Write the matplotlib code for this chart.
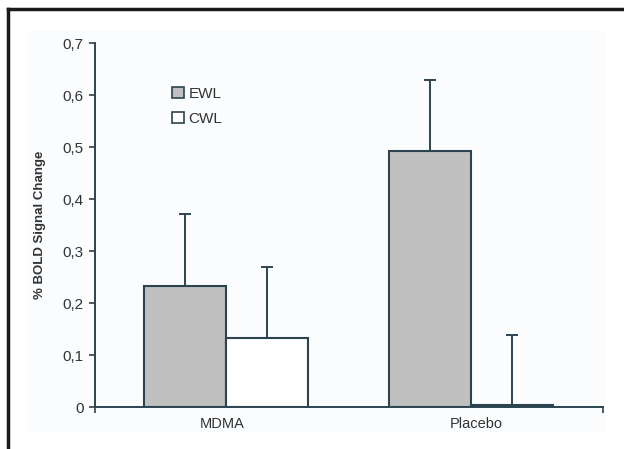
import numpy as np
import matplotlib.pyplot as plt
from matplotlib.lines import Line2D
from matplotlib.patches import Patch, Rectangle

plt.rcParams['font.family'] = ['Liberation Sans', 'DejaVu Sans']

groups = ['MDMA', 'Placebo']
ewl = [0.232, 0.493]
cwl = [0.133, 0.003]
ewl_err = [0.140, 0.136]
cwl_err = [0.136, 0.135]
yticks = [0, 0.1, 0.2, 0.3, 0.4, 0.5, 0.6, 0.7]
ytick_labels = ['0', '0,1', '0,2', '0,3', '0,4', '0,5', '0,6', '0,7']

edge = '#2c4450'
txt = '#333333'

fig = plt.figure(figsize=(6.24, 4.49), dpi=100)
fig.patch.set_facecolor('white')
# faint tinted chart area behind the plot
fig.add_artist(Rectangle((28/624, 1 - 432/449), (605-28)/624, (432-30)/449,
                         facecolor='#fbfcfe', edgecolor='none',
                         transform=fig.transFigure, zorder=0))
ax = fig.add_axes([0.1522, 0.0935, 0.8141, 0.8107])
ax.set_facecolor('none')

x = np.arange(len(groups))
centers = x + np.array([0.016, -0.018])
w = 0.323
ax.bar(centers - w/2, ewl, w, color='#c0c0c0', edgecolor=edge, linewidth=1.5, zorder=2)
ax.bar(centers + w/2, cwl, w, color='white', edgecolor=edge, linewidth=1.5, zorder=2)
ax.errorbar(centers - w/2, ewl, yerr=[np.zeros(2), ewl_err], fmt='none', ecolor=edge,
            elinewidth=1.4, capsize=4, capthick=1.4, zorder=1)
ax.errorbar(centers + w/2, cwl, yerr=[np.zeros(2), cwl_err], fmt='none', ecolor=edge,
            elinewidth=1.4, capsize=4, capthick=1.4, zorder=1)

ax.set_xlim(-0.5, 1.5)
ax.set_ylim(0, 0.7)
ax.set_yticks(yticks)
ax.set_yticklabels(ytick_labels, fontsize=11, color=txt)
ax.set_xticks(x)
ax.set_xticklabels(groups, fontsize=10.5, color=txt)
ax.tick_params(axis='x', length=0, pad=7)
ax.set_xticks([-0.5, 1.5], minor=True)
ax.tick_params(axis='x', which='minor', length=4, color=edge, width=1.2)
ax.tick_params(axis='y', length=4, color=edge, width=1.2, pad=4)

for s in ['top', 'right']:
    ax.spines[s].set_visible(False)
for s in ['left', 'bottom']:
    ax.spines[s].set_color(edge)
    ax.spines[s].set_linewidth(1.4)

ax.set_ylabel('% BOLD Signal Change', fontsize=9.5, fontweight='bold', color=txt, labelpad=12)

handles = [Patch(facecolor='#c0c0c0', edgecolor=edge, linewidth=1.2),
           Patch(facecolor='white', edgecolor=edge, linewidth=1.2)]
ax.legend(handles, ['EWL', 'CWL'], loc='upper left', bbox_to_anchor=(0.125, 0.917),
          frameon=False, fontsize=11, handlelength=0.75, handleheight=0.75,
          handletextpad=0.3, labelspacing=0.7, labelcolor=txt)

# outer frame (left and top edges visible)
fig.add_artist(Line2D([8/624, 8/624], [0, 1 - 9/449], color='#1a1a1a', linewidth=2.5,
                      transform=fig.transFigure))
fig.add_artist(Line2D([8/624, 1], [1 - 9/449, 1 - 9/449], color='#1a1a1a', linewidth=2.5,
                      transform=fig.transFigure))

fig.savefig('out.png', dpi=100)
